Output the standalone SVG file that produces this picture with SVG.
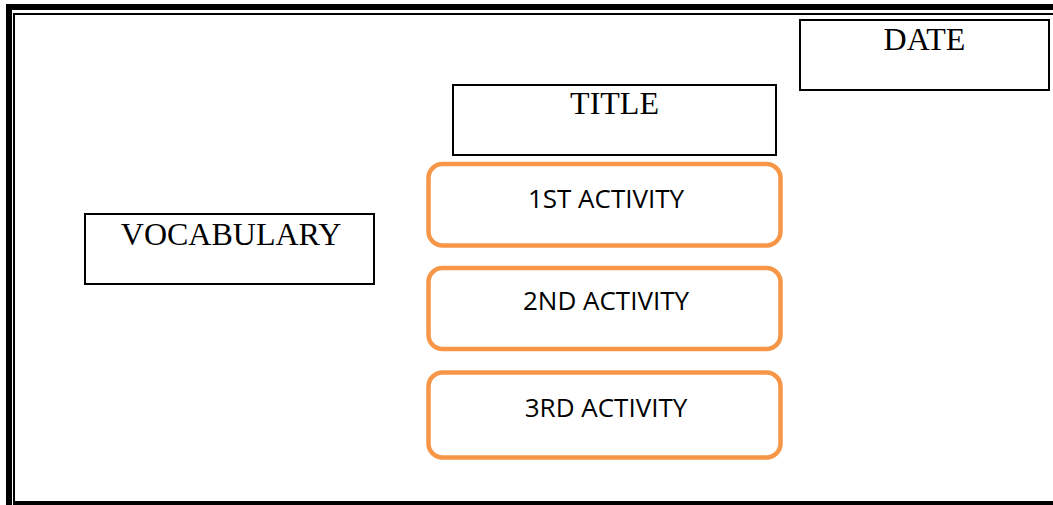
<svg xmlns="http://www.w3.org/2000/svg" width="1053" height="505" viewBox="0 0 1053 505">
<style>
.box{fill:#fff;stroke:#000;stroke-width:2}
.act{fill:#fff;stroke:#F79646;stroke-width:4.5}
.serif{font-family:"Liberation Serif","Times New Roman",serif;font-size:32px;fill:#000;text-anchor:middle}
.sans{font-family:"Open Sans","Noto Sans",sans-serif;font-size:26px;fill:#000;text-anchor:middle}
</style>
<rect x="0" y="0" width="1053" height="505" fill="#fff"/>
<g id="border" fill="#000">
<rect x="6" y="4" width="1047" height="6"/>
<rect x="6" y="4" width="6" height="501"/>
<rect x="13" y="13" width="1040" height="2"/>
<rect x="13" y="13" width="2" height="488"/>
<rect x="13" y="501" width="1040" height="4"/>
</g>
<g id="connectors"></g>
<g id="date">
<rect class="box" x="800" y="20" width="249" height="70"/>
<text class="serif" x="924.5" y="50">DATE</text>
</g>
<g id="title">
<rect class="box" x="453" y="85" width="323" height="70"/>
<text class="serif" x="614.5" y="114">TITLE</text>
</g>
<g id="vocabulary">
<rect class="box" x="85" y="214" width="289" height="70"/>
<text class="serif" x="231" y="245">VOCABULARY</text>
</g>
<g id="activity1">
<rect class="act" x="428.5" y="164" width="352" height="81.5" rx="14"/>
<text class="sans" x="606" y="208">1ST ACTIVITY</text>
</g>
<g id="activity2">
<rect class="act" x="428.5" y="268" width="352" height="81" rx="14"/>
<text class="sans" x="606" y="310">2ND ACTIVITY</text>
</g>
<g id="activity3">
<rect class="act" x="428.5" y="372.5" width="352" height="85" rx="14"/>
<text class="sans" x="606" y="417">3RD ACTIVITY</text>
</g>
</svg>
